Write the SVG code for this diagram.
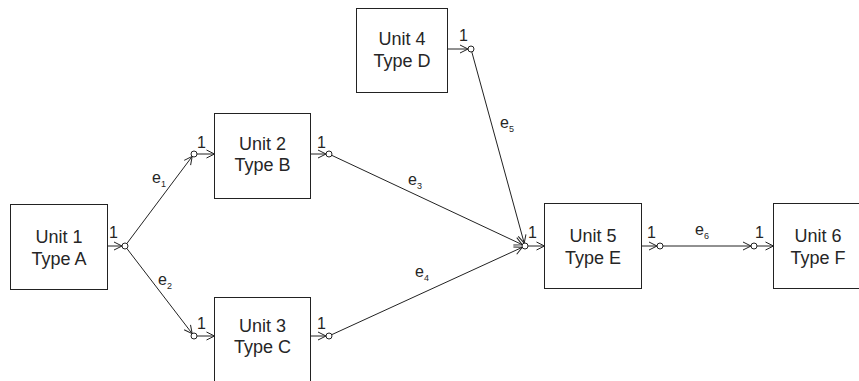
<svg xmlns="http://www.w3.org/2000/svg" width="859" height="381" viewBox="0 0 859 381">
  <defs>
    <!-- open chevron used on every port stub and every edge -->
    <marker id="chev" markerUnits="userSpaceOnUse" markerWidth="10" markerHeight="10" refX="8" refY="4" orient="auto" overflow="visible">
      <path d="M0,0 L8,4 L0,8" fill="none" stroke="#222" stroke-width="1"/>
    </marker>
  </defs>
  <style>
    .box { fill: #fff; stroke: #222; stroke-width: 1; }
    .stub, .edge { stroke: #222; stroke-width: 1; fill: none; marker-end: url(#chev); }
    .port { fill: #fff; stroke: #222; stroke-width: 1; }
    .name { font-family: "Liberation Sans", Arial, sans-serif; font-size: 18px; fill: #262626; text-anchor: middle; }
    .num { font-family: "Liberation Sans", Arial, sans-serif; font-size: 16px; fill: #262626; }
    .lab { font-family: "Liberation Sans", Arial, sans-serif; font-size: 16px; fill: #262626; }
    .sub { font-size: 9px; }
  </style>
  <rect width="859" height="381" fill="#fff"/>

  <g id="connectors">
    <line class="edge" x1="126.8" y1="243.6" x2="192.2" y2="156.4"/>
    <line class="edge" x1="126.8" y1="248.4" x2="192.2" y2="333.6"/>
    <line class="edge" x1="331.7" y1="155.3" x2="522.3" y2="244.7"/>
    <line class="edge" x1="331.7" y1="334.7" x2="522.3" y2="247.3"/>
    <line class="edge" x1="471.8" y1="51.9" x2="524.2" y2="243.1"/>
    <line class="edge" x1="663" y1="246" x2="751" y2="246"/>
    <text class="lab" x="152" y="183">e<tspan class="sub" dy="4">1</tspan></text>
    <text class="lab" x="158" y="285">e<tspan class="sub" dy="4">2</tspan></text>
    <text class="lab" x="408" y="185">e<tspan class="sub" dy="4">3</tspan></text>
    <text class="lab" x="415" y="277">e<tspan class="sub" dy="4">4</tspan></text>
    <text class="lab" x="500" y="128">e<tspan class="sub" dy="4">5</tspan></text>
    <text class="lab" x="695" y="235">e<tspan class="sub" dy="4">6</tspan></text>
  </g>

  <g id="unit1">
    <rect class="box" x="10.5" y="204.5" width="97" height="85"/>
    <text class="name" x="59" y="243">Unit 1</text>
    <text class="name" x="59" y="265">Type A</text>
    <line class="stub" x1="107.5" y1="246" x2="122" y2="246"/>
    <circle class="port" cx="125" cy="246" r="3"/>
    <text class="num" x="109" y="238">1</text>
  </g>

  <g id="unit2">
    <rect class="box" x="214.5" y="113.5" width="96" height="85"/>
    <text class="name" x="262.5" y="150">Unit 2</text>
    <text class="name" x="262.5" y="171">Type B</text>
    <circle class="port" cx="194" cy="154" r="3"/>
    <line class="stub" x1="197" y1="154" x2="214.5" y2="154"/>
    <text class="num" x="197" y="148">1</text>
    <line class="stub" x1="310.5" y1="154" x2="326" y2="154"/>
    <circle class="port" cx="329" cy="154" r="3"/>
    <text class="num" x="317" y="148">1</text>
  </g>

  <g id="unit3">
    <rect class="box" x="214.5" y="297.5" width="96" height="85"/>
    <text class="name" x="262.5" y="332">Unit 3</text>
    <text class="name" x="262.5" y="353">Type C</text>
    <circle class="port" cx="194" cy="336" r="3"/>
    <line class="stub" x1="197" y1="336" x2="214.5" y2="336"/>
    <text class="num" x="197" y="329">1</text>
    <line class="stub" x1="310.5" y1="336" x2="326" y2="336"/>
    <circle class="port" cx="329" cy="336" r="3"/>
    <text class="num" x="317" y="329">1</text>
  </g>

  <g id="unit4">
    <rect class="box" x="356.5" y="8.5" width="91" height="84"/>
    <text class="name" x="402" y="45">Unit 4</text>
    <text class="name" x="402" y="67">Type D</text>
    <line class="stub" x1="447.5" y1="49" x2="468" y2="49"/>
    <circle class="port" cx="471" cy="49" r="3"/>
    <text class="num" x="459" y="41">1</text>
  </g>

  <g id="unit5">
    <rect class="box" x="544.5" y="203.5" width="97" height="85"/>
    <text class="name" x="593" y="242">Unit 5</text>
    <text class="name" x="593" y="264">Type E</text>
    <circle class="port" cx="525" cy="246" r="3"/>
    <line class="stub" x1="528" y1="246" x2="544.5" y2="246"/>
    <text class="num" x="528" y="238">1</text>
    <line class="stub" x1="641.5" y1="246" x2="657" y2="246"/>
    <circle class="port" cx="660" cy="246" r="3"/>
    <text class="num" x="647" y="238">1</text>
  </g>

  <g id="unit6">
    <rect class="box" x="773.5" y="203.5" width="97" height="85"/>
    <text class="name" x="818" y="242">Unit 6</text>
    <text class="name" x="818" y="264">Type F</text>
    <circle class="port" cx="754" cy="246" r="3"/>
    <line class="stub" x1="757" y1="246" x2="773.5" y2="246"/>
    <text class="num" x="755" y="238">1</text>
  </g>
</svg>
